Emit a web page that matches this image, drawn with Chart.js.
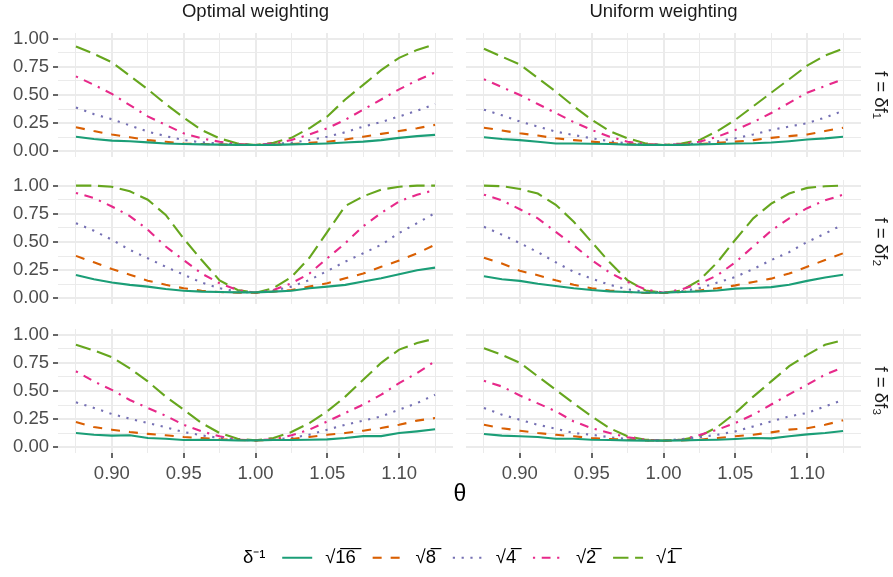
<!DOCTYPE html>
<html>
<head>
<meta charset="utf-8">
<script src="https://cdn.jsdelivr.net/npm/chart.js@4"></script>
<style>
html, body { margin: 0; padding: 0; background: #fff; width: 893px; height: 577px; overflow: hidden; position: relative; }
canvas { position: absolute; }
</style>
</head>
<body>
<script>
const FONT = '"Liberation Sans", Arial, Helvetica, sans-serif';

// theta grid (x values of every line)
const theta = [0.875, 0.8875, 0.9, 0.9125, 0.925, 0.9375, 0.95, 0.9625, 0.975, 0.9875, 1.0,
               1.0125, 1.025, 1.0375, 1.05, 1.0625, 1.075, 1.0875, 1.1, 1.1125, 1.125];

// series: delta^-1 = sqrt16, sqrt8, sqrt4, sqrt2, sqrt1
const seriesLabels = ['√16', '√8', '√4', '√2', '√1'];
const legendLabels = ['\u2009√1\u03056\u0305', '\u2009√8\u0305', '\u2009√4\u0305', '\u2009√2\u0305', '\u2009√1\u0305'];
const seriesColors = ['#1B9E77', '#D95F02', '#7570B3', '#E7298A', '#66A61E'];
const seriesDashes = [[], [9, 9], [2.2, 6.6], [2.2, 6.6, 8.8, 6.6], [15.4, 6.6]];

// ticks
const xTicks = [0.875, 0.9, 0.925, 0.95, 0.975, 1.0, 1.025, 1.05, 1.075, 1.1, 1.125];
const xLabels = [0.9, 0.95, 1.0, 1.05, 1.1];
const yTicks = [0, 0.125, 0.25, 0.375, 0.5, 0.625, 0.75, 0.875, 1];
const yLabels = [0, 0.25, 0.5, 0.75, 1];

const columnTitles = ['Optimal weighting', 'Uniform weighting'];
const rowTitles = ['f = δf₁', 'f = δf₂', 'f = δf₃'];

// values per panel, rows in the order of seriesLabels
const optimalF1 = [
  [0.13, 0.11, 0.095, 0.09, 0.08, 0.07, 0.065, 0.062, 0.06, 0.058, 0.057, 0.058, 0.062, 0.065, 0.07, 0.078, 0.086, 0.10, 0.12, 0.135, 0.146],
  [0.214, 0.18, 0.15, 0.125, 0.10, 0.085, 0.07, 0.065, 0.062, 0.058, 0.057, 0.06, 0.065, 0.075, 0.086, 0.105, 0.13, 0.155, 0.18, 0.205, 0.235],
  [0.39, 0.33, 0.285, 0.23, 0.175, 0.135, 0.10, 0.08, 0.07, 0.06, 0.057, 0.065, 0.077, 0.10, 0.13, 0.17, 0.22, 0.26, 0.31, 0.36, 0.42],
  [0.665, 0.59, 0.51, 0.41, 0.31, 0.235, 0.16, 0.115, 0.085, 0.065, 0.057, 0.07, 0.10, 0.15, 0.205, 0.28, 0.37, 0.46, 0.55, 0.63, 0.70],
  [0.93, 0.865, 0.79, 0.67, 0.55, 0.42, 0.30, 0.19, 0.115, 0.07, 0.057, 0.077, 0.12, 0.205, 0.31, 0.46, 0.59, 0.72, 0.83, 0.90, 0.95]
];
const uniformF1 = [
  [0.125, 0.11, 0.10, 0.085, 0.07, 0.07, 0.068, 0.065, 0.06, 0.058, 0.057, 0.058, 0.062, 0.065, 0.07, 0.072, 0.078, 0.09, 0.105, 0.115, 0.13],
  [0.21, 0.185, 0.16, 0.14, 0.116, 0.10, 0.086, 0.075, 0.065, 0.06, 0.057, 0.06, 0.065, 0.075, 0.086, 0.10, 0.12, 0.135, 0.15, 0.18, 0.21],
  [0.37, 0.32, 0.265, 0.22, 0.175, 0.145, 0.116, 0.09, 0.07, 0.06, 0.057, 0.06, 0.07, 0.09, 0.116, 0.15, 0.19, 0.22, 0.25, 0.30, 0.36],
  [0.64, 0.57, 0.50, 0.42, 0.34, 0.26, 0.19, 0.13, 0.086, 0.065, 0.057, 0.065, 0.086, 0.13, 0.19, 0.26, 0.34, 0.43, 0.52, 0.58, 0.64],
  [0.91, 0.84, 0.77, 0.65, 0.53, 0.40, 0.28, 0.18, 0.116, 0.07, 0.057, 0.07, 0.10, 0.18, 0.28, 0.40, 0.52, 0.64, 0.76, 0.85, 0.91]
];
const optimalF2 = [
  [0.208, 0.17, 0.14, 0.12, 0.104, 0.083, 0.068, 0.06, 0.056, 0.053, 0.053, 0.06, 0.068, 0.09, 0.104, 0.12, 0.15, 0.178, 0.214, 0.25, 0.273],
  [0.377, 0.32, 0.26, 0.21, 0.157, 0.12, 0.09, 0.068, 0.056, 0.05, 0.05, 0.06, 0.074, 0.104, 0.134, 0.178, 0.22, 0.28, 0.335, 0.40, 0.475],
  [0.667, 0.60, 0.52, 0.43, 0.356, 0.28, 0.21, 0.14, 0.09, 0.06, 0.05, 0.068, 0.104, 0.163, 0.243, 0.326, 0.40, 0.475, 0.58, 0.667, 0.757],
  [0.935, 0.89, 0.815, 0.73, 0.61, 0.46, 0.34, 0.22, 0.134, 0.074, 0.05, 0.074, 0.134, 0.22, 0.356, 0.49, 0.64, 0.757, 0.86, 0.92, 0.96],
  [1.0, 1.0, 0.99, 0.95, 0.875, 0.74, 0.53, 0.34, 0.16, 0.074, 0.05, 0.09, 0.19, 0.36, 0.59, 0.82, 0.905, 0.965, 0.99, 1.0, 1.0]
];
const uniformF2 = [
  [0.196, 0.17, 0.155, 0.13, 0.11, 0.09, 0.074, 0.062, 0.056, 0.05, 0.05, 0.056, 0.062, 0.07, 0.086, 0.092, 0.10, 0.12, 0.155, 0.185, 0.21],
  [0.36, 0.31, 0.245, 0.205, 0.16, 0.12, 0.09, 0.07, 0.056, 0.047, 0.047, 0.056, 0.07, 0.09, 0.115, 0.145, 0.175, 0.22, 0.28, 0.34, 0.40],
  [0.635, 0.565, 0.49, 0.41, 0.32, 0.235, 0.175, 0.12, 0.08, 0.056, 0.05, 0.062, 0.09, 0.14, 0.19, 0.26, 0.34, 0.41, 0.50, 0.575, 0.655],
  [0.92, 0.87, 0.79, 0.71, 0.59, 0.47, 0.34, 0.23, 0.145, 0.08, 0.05, 0.08, 0.13, 0.205, 0.32, 0.46, 0.60, 0.71, 0.80, 0.87, 0.92],
  [1.0, 0.995, 0.97, 0.93, 0.83, 0.68, 0.50, 0.32, 0.16, 0.07, 0.05, 0.07, 0.16, 0.32, 0.52, 0.71, 0.84, 0.93, 0.98, 0.995, 1.0]
];
const optimalF3 = [
  [0.127, 0.112, 0.104, 0.107, 0.083, 0.077, 0.065, 0.068, 0.065, 0.062, 0.062, 0.065, 0.065, 0.068, 0.071, 0.083, 0.10, 0.10, 0.127, 0.142, 0.16],
  [0.225, 0.18, 0.157, 0.136, 0.12, 0.107, 0.092, 0.083, 0.071, 0.065, 0.062, 0.065, 0.074, 0.092, 0.112, 0.127, 0.148, 0.172, 0.20, 0.237, 0.26],
  [0.40, 0.35, 0.296, 0.254, 0.216, 0.178, 0.136, 0.107, 0.083, 0.068, 0.062, 0.068, 0.083, 0.112, 0.157, 0.20, 0.237, 0.275, 0.334, 0.393, 0.467],
  [0.675, 0.585, 0.51, 0.42, 0.35, 0.28, 0.20, 0.142, 0.098, 0.068, 0.062, 0.071, 0.107, 0.157, 0.23, 0.305, 0.38, 0.467, 0.57, 0.66, 0.763],
  [0.91, 0.86, 0.80, 0.70, 0.585, 0.45, 0.334, 0.216, 0.127, 0.077, 0.062, 0.083, 0.136, 0.216, 0.32, 0.45, 0.60, 0.75, 0.867, 0.926, 0.965]
];
const uniformF3 = [
  [0.118, 0.104, 0.098, 0.092, 0.077, 0.077, 0.068, 0.065, 0.062, 0.06, 0.06, 0.062, 0.065, 0.068, 0.074, 0.083, 0.08, 0.098, 0.115, 0.127, 0.145],
  [0.20, 0.17, 0.148, 0.127, 0.112, 0.098, 0.083, 0.074, 0.068, 0.062, 0.06, 0.062, 0.068, 0.083, 0.098, 0.112, 0.133, 0.157, 0.17, 0.20, 0.24],
  [0.35, 0.29, 0.245, 0.20, 0.166, 0.127, 0.112, 0.09, 0.074, 0.062, 0.06, 0.074, 0.09, 0.112, 0.142, 0.186, 0.23, 0.275, 0.305, 0.364, 0.42],
  [0.59, 0.54, 0.46, 0.39, 0.32, 0.23, 0.17, 0.127, 0.09, 0.068, 0.06, 0.068, 0.11, 0.157, 0.216, 0.29, 0.38, 0.47, 0.556, 0.645, 0.71],
  [0.88, 0.82, 0.75, 0.63, 0.51, 0.39, 0.275, 0.17, 0.098, 0.068, 0.06, 0.068, 0.098, 0.18, 0.305, 0.45, 0.585, 0.72, 0.82, 0.91, 0.95]
];

const panelValues = [
  [optimalF1, uniformF1],
  [optimalF2, uniformF2],
  [optimalF3, uniformF3]
];

// layout of the facet grid (pixels)
const colBox = [
  { left: 0, width: 453, yAxis: 58, strip: 0 },
  { left: 466, width: 427, yAxis: 0, strip: 32 }
];
const rowBox = [
  { top: 0, height: 157, topAxis: 33, xAxis: 0 },
  { top: 180, height: 124, topAxis: 0, xAxis: 0 },
  { top: 329, height: 154, topAxis: 0, xAxis: 30 }
];
const PAD = 12; // room above/below each panel so the end tick labels are not cut

function isIn(list, v) {
  return list.some(m => Math.abs(m - v) < 1e-6);
}

// fixed axis size, no extra room for overhanging end labels
function fixSize(a, w, h) {
  if (w !== null) a.width = w;
  if (h !== null) a.height = h;
  a.paddingTop = 0; a.paddingBottom = 0;
  a.paddingLeft = 0; a.paddingRight = 0;
}

function addCanvas(left, top, w, h) {
  const c = document.createElement('canvas');
  c.width = w; c.height = h;
  c.style.left = left + 'px';
  c.style.top = top + 'px';
  c.style.width = w + 'px';
  c.style.height = h + 'px';
  document.body.appendChild(c);
  return c;
}

function makeDatasets(values) {
  return seriesLabels.map((lab, i) => ({
    label: lab,
    data: values ? values[i].map((v, k) => ({ x: theta[k], y: v })) : [],
    borderColor: seriesColors[i],
    backgroundColor: seriesColors[i],
    borderDash: seriesDashes[i],
    borderWidth: 2.1,
    pointRadius: 0,
    tension: 0,
    fill: false,
    xAxisID: 'x',
    yAxisID: 'y'
  }));
}

function panelChart(r, c) {
  const cb = colBox[c], rb = rowBox[r];
  const canvas = addCanvas(cb.left, rb.top - PAD, cb.width, rb.height + 2 * PAD);
  const tickFont = { family: FONT, size: 18.5 };

  const scales = {
    x: {
      type: 'linear', position: 'bottom', min: 0.8625, max: 1.1375,
      afterBuildTicks: a => { a.ticks = xTicks.map(v => ({ value: v })); },
      afterFit: a => fixSize(a, null, rb.xAxis),
      border: { display: false },
      grid: {
        color: '#EBEBEB',
        lineWidth: ctx => (ctx.tick && isIn(xLabels, ctx.tick.value)) ? 2 : 1,
        drawTicks: rb.xAxis > 0,
        tickLength: 5,
        tickWidth: 1.5,
        tickColor: ctx => (ctx.tick && isIn(xLabels, ctx.tick.value)) ? '#333333' : 'rgba(0,0,0,0)'
      },
      ticks: {
        display: rb.xAxis > 0, autoSkip: false, maxRotation: 0, minRotation: 0,
        padding: 5, color: '#4D4D4D', font: tickFont,
        callback: v => isIn(xLabels, v) ? v.toFixed(2) : ''
      }
    },
    y: {
      type: 'linear', position: 'left', min: -0.05, max: 1.05,
      afterBuildTicks: a => { a.ticks = yTicks.map(v => ({ value: v })); },
      afterFit: a => fixSize(a, cb.yAxis, null),
      border: { display: false },
      grid: {
        color: '#EBEBEB',
        lineWidth: ctx => (ctx.tick && isIn(yLabels, ctx.tick.value)) ? 2 : 1,
        drawTicks: cb.yAxis > 0,
        tickLength: 5,
        tickWidth: 1.5,
        tickColor: ctx => (ctx.tick && isIn(yLabels, ctx.tick.value)) ? '#333333' : 'rgba(0,0,0,0)'
      },
      ticks: {
        display: cb.yAxis > 0, autoSkip: false,
        padding: 4, color: '#4D4D4D', font: tickFont,
        callback: v => isIn(yLabels, v) ? v.toFixed(2) : ''
      }
    }
  };
  // facet strip on top (column title)
  if (rb.topAxis) {
    scales.xTop = {
      type: 'linear', position: 'top',
      afterFit: a => fixSize(a, null, rb.topAxis),
      grid: { display: false }, border: { display: false }, ticks: { display: false },
      title: { display: true, text: columnTitles[c], color: '#1A1A1A', font: tickFont, padding: { top: 1, bottom: 0 } }
    };
  }
  // facet strip on the right (row title)
  if (cb.strip) {
    scales.yStrip = {
      type: 'linear', position: 'right',
      afterFit: a => fixSize(a, cb.strip, null),
      grid: { display: false }, border: { display: false }, ticks: { display: false },
      title: { display: true, text: rowTitles[r], color: '#1A1A1A', font: tickFont, padding: { top: 2, bottom: 0 } }
    };
  }

  return new Chart(canvas.getContext('2d'), {
    type: 'line',
    data: { datasets: makeDatasets(panelValues[r][c]) },
    options: {
      responsive: false,
      animation: false,
      devicePixelRatio: 1,
      layout: { padding: { top: PAD, bottom: PAD, left: 0, right: 0 } },
      scales: scales,
      plugins: { legend: { display: false }, tooltip: { enabled: false } }
    }
  });
}

for (let r = 0; r < 3; r++) {
  for (let c = 0; c < 2; c++) panelChart(r, c);
}

// axis title (theta) and the legend at the bottom
const legendCanvas = addCanvas(187, 475, 546, 102);
new Chart(legendCanvas.getContext('2d'), {
  type: 'line',
  data: { datasets: makeDatasets(null) },
  options: {
    responsive: false,
    animation: false,
    devicePixelRatio: 1,
    layout: { padding: 0 },
    scales: { x: { display: false }, y: { display: false } },
    plugins: {
      tooltip: { enabled: false },
      title: {
        display: true, text: 'θ', color: '#000000',
        font: { family: FONT, size: 23, weight: 'normal' },
        padding: { top: 6, bottom: 0 }
      },
      legend: {
        position: 'bottom', align: 'start',
        labels: {
          usePointStyle: true, pointStyle: 'line', pointStyleWidth: 30,
          padding: 16.75, color: '#000000',
          font: { family: FONT, size: 18.5 },
          generateLabels: chart => {
            const items = Chart.defaults.plugins.legend.labels.generateLabels(chart);
            items.forEach((it, i) => {
              it.text = legendLabels[i];
              it.pointStyle = 'line';
              it.lineDash = seriesDashes[i];
              it.lineWidth = 2.1;
              it.strokeStyle = seriesColors[i];
            });
            items.unshift({
              text: 'δ⁻¹', fillStyle: 'rgba(0,0,0,0)', strokeStyle: 'rgba(0,0,0,0)',
              lineWidth: 0, pointStyle: 'line', hidden: false, datasetIndex: -1
            });
            return items;
          }
        },
        onClick: () => {}
      }
    }
  }
});
</script>
</body>
</html>
